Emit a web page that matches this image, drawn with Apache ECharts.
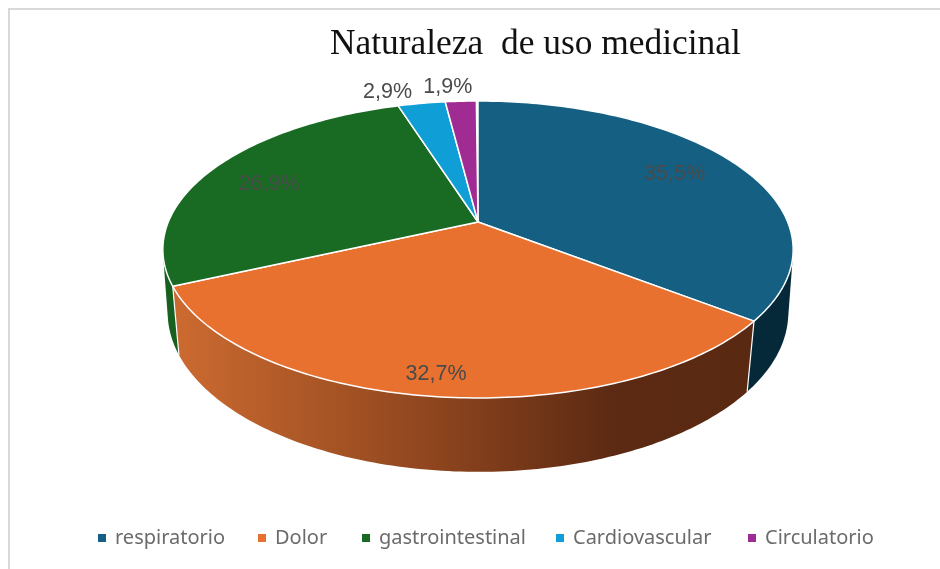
<!DOCTYPE html>
<html>
<head>
<meta charset="utf-8">
<style>html,body{margin:0;padding:0;background:#fff}#c{width:940px;height:569px}</style>
<script src="https://cdn.jsdelivr.net/npm/echarts@6/dist/echarts.min.js"></script>
</head>
<body>
<div id="c"></div>
<script>
const categories = ['respiratorio', 'Dolor', 'gastrointestinal', 'Cardiovascular', 'Circulatorio'];
const shares = [35.5, 32.7, 26.9, 2.9, 1.9];
const titleText = 'Naturaleza  de uso medicinal';

const topColors = ['#156082', '#E87130', '#196B24', '#0F9ED5', '#A02B93'];
const wallColors = ['#06293A',
  {type:'linear',x:178,y:0,x2:748,y2:0,global:true,colorStops:[
    {offset:0,color:'#CB6A30'},{offset:.45,color:'#8E451E'},{offset:.76,color:'#5C2A13'},{offset:1,color:'#5A2912'}]},
  '#17601F', '#0A6E96', '#701E67'];
const labelOffsets = [[0,-3],[-4,2],[-8,3],[-34,-11],[-13,-14]];
const labelRadius = [.75,.884,.75,1,1];
const legendLefts = [98, 258, 362, 556, 748];

// perspective projection of the pie's top and bottom faces
const topFace = {cx:478, cy:222, a:309.7, b:143.4, k:.185};
const lowFace = {cx:478, cy:286, a:306, b:155, k:.166};
function project(f, deg, r) {
  r = r === undefined ? 1 : r;
  const t = deg*Math.PI/180, u = Math.sin(t)*r, v = Math.cos(t)*r, d = 1+f.k*v;
  return [f.cx+f.a*u/d, f.cy-f.b*v/d];
}
function arc(f, a0, a1) {
  const pts = [], n = Math.max(2, Math.ceil(Math.abs(a1-a0)));
  for (let i=0;i<=n;i++) pts.push(project(f, a0+(a1-a0)*i/n));
  return pts;
}
function hull(points) {
  const p = points.slice().sort((m,n)=>m[0]-n[0]||m[1]-n[1]);
  const cross = (o,m,n)=>(m[0]-o[0])*(n[1]-o[1])-(m[1]-o[1])*(n[0]-o[0]);
  const half = list => { const h=[]; for (const q of list){ while(h.length>1&&cross(h[h.length-2],h[h.length-1],q)<=0) h.pop(); h.push(q);} h.pop(); return h; };
  return half(p).concat(half(p.slice().reverse()));
}
function renderSlice(params, api) {
  const i = params.seriesIndex, val = api.value(0), before = api.value(1);
  const a0 = before*3.6, a1 = (before+val)*3.6;
  const wall = hull(arc(topFace,a0,a1).concat(arc(lowFace,a0,a1)));
  const top = [[topFace.cx,topFace.cy]].concat(arc(topFace,a0,a1));
  const mid = (a0+a1)/2;
  const lp = project(topFace, mid, labelRadius[i]);
  const frontness = (1-Math.cos(mid*Math.PI/180))/4;
  const children = [
    {type:'polygon',z2:1+frontness,shape:{points:wall},style:{fill:wallColors[i]}},
    {type:'line',z2:2,shape:{x1:project(topFace,a0)[0],y1:project(topFace,a0)[1],x2:project(lowFace,a0)[0],y2:project(lowFace,a0)[1]},style:{stroke:'#fff',lineWidth:1.2}},
    {type:'polygon',z2:3,shape:{points:top},style:{fill:topColors[i],stroke:'#fff',lineWidth:1.5,lineJoin:'round'}},
    {type:'text',z2:5,style:{text:val.toFixed(1).replace('.',',')+'%',x:lp[0]+labelOffsets[i][0],y:lp[1]+labelOffsets[i][1],
      fill:'#4a4a4a',align:'center',verticalAlign:'middle',font:'21.5px "Liberation Sans"'}}
  ];
  return {type:'group',children};
}
let running = 0;
const series = categories.map((name,i)=>{
  const s = {type:'custom',name,coordinateSystem:'none',renderItem:renderSlice,silent:true,
    itemStyle:{color:topColors[i]},data:[[shares[i],running]]};
  running += shares[i];
  return s;
});
const chart = echarts.init(document.getElementById('c'),null,{renderer:'canvas'});
chart.setOption({
  animation:false,
  backgroundColor:'#fff',
  title:{text:titleText,left:325,top:22,textStyle:{fontFamily:'Liberation Serif',fontSize:35.4,fontWeight:'normal',color:'#111'}},
  legend:categories.map((name,i)=>({left:legendLefts[i]-5,top:523,icon:'rect',itemWidth:8,itemHeight:8,selectedMode:false,
    textStyle:{fontFamily:'Noto Sans',fontSize:20,color:'#6b6b6b',padding:[0,0,0,4]},data:[name]})),
  graphic:[
    {type:'line',silent:true,shape:{x1:8,y1:9,x2:940,y2:9},style:{stroke:'#d9d9d9',lineWidth:2}},
    {type:'line',silent:true,shape:{x1:9,y1:8,x2:9,y2:569},style:{stroke:'#d9d9d9',lineWidth:2}}
  ],
  series
});
</script>
</body>
</html>
